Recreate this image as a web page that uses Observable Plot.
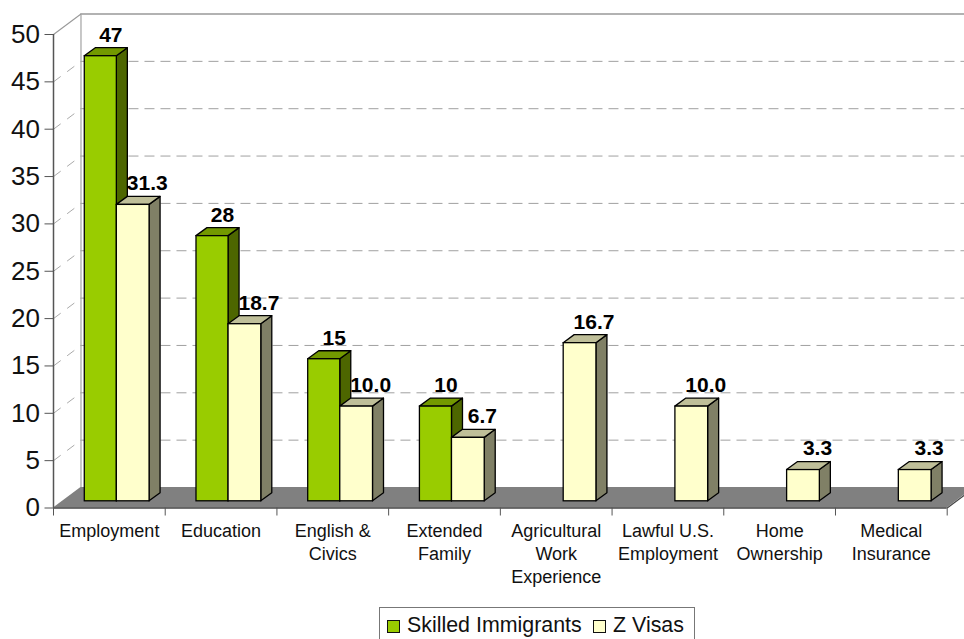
<!DOCTYPE html>
<html>
<head>
<meta charset="utf-8">
<script src="https://cdn.jsdelivr.net/npm/d3@7"></script>
<script src="https://cdn.jsdelivr.net/npm/@observablehq/plot@0.6"></script>
<style>
html,body{margin:0;padding:0;background:#fff;overflow:hidden;width:964px;height:639px}
#chart svg{display:block;overflow:hidden;max-width:none}
#legend{position:absolute;left:379px;top:607px;width:316px;height:40px;box-sizing:border-box;border:1px solid #777;
 font:21.4px "Liberation Sans",Arial,sans-serif;color:#111;white-space:nowrap}
#legend i{position:absolute;top:12px;width:11px;height:11px;border:1.3px solid #111}
#legend span{position:absolute;top:4px;line-height:26px}
</style>
</head>
<body>
<div id="chart"></div>
<div id="legend">
  <i style="left:7px;background:#99cc00"></i><span id="legendA" style="left:27px"></span>
  <i style="left:213px;background:#ffffcc"></i><span id="legendB" style="left:233px"></span>
</div>
<script>
const categories = ["Employment","Education","English &\nCivics","Extended\nFamily","Agricultural\nWork\nExperience","Lawful U.S.\nEmployment","Home\nOwnership","Medical\nInsurance"];
const skilled = [47,28,15,10,null,null,null,null];
const zVisas = [31.3,18.7,10.0,6.7,16.7,10.0,3.3,3.3];
const skilledLabels = ["47","28","15","10",null,null,null,null];
const zLabels = ["31.3","18.7","10.0","6.7","16.7","10.0","3.3","3.3"];
const yTicks = [0,5,10,15,20,25,30,35,40,45,50];
const gridValues = [5,10,15,20,25,30,35,40,45];
const seriesNames = ["Skilled Immigrants","Z Visas"];

document.getElementById("legendA").textContent = seriesNames[0];
document.getElementById("legendB").textContent = seriesNames[1];

// Depth of the floor and of the bars, in data units (category widths, value units)
const wallX = 0.246, wallY = 2.165, barX = 0.0985, barY = 0.845;
const font = '"Liberation Sans",Arial,sans-serif';

const rows = (vals, labs, a, b) => vals.map((v,i)=>({i, v, label:labs[i], x1:i+a, x2:i+b})).filter(d=>d.v!=null);
const green = rows(skilled, skilledLabels, 0.28, 0.567);
const yellow = rows(zVisas, zLabels, 0.567, 0.86);

const sideFaces = bars => bars.flatMap(d=>[
  {id:d.i, x:d.x2, y1:0, y2:d.v},
  {id:d.i, x:d.x2+barX, y1:barY, y2:d.v+barY}
]);
const topFaces = bars => bars.flatMap(d=>[
  {id:d.i, x:d.x1, y1:d.v, y2:d.v},
  {id:d.i, x:d.x1+barX, y1:d.v, y2:d.v+barY},
  {id:d.i, x:d.x2, y1:d.v, y2:d.v+barY},
  {id:d.i, x:d.x2+barX, y1:d.v+barY, y2:d.v+barY}
]);
const floor = [
  {x:0, y1:0, y2:0},
  {x:wallX, y1:0, y2:wallY},
  {x:8, y1:0, y2:wallY},
  {x:8+wallX, y1:wallY, y2:wallY}
];

const barMarks = (bars, front, top, side) => [
  Plot.area(sideFaces(bars), {x1:"x", y1:"y1", y2:"y2", z:"id", fill:side, stroke:"#000", strokeWidth:1.3, dy:-6.7}),
  Plot.area(topFaces(bars), {x1:"x", y1:"y1", y2:"y2", z:"id", fill:top, stroke:"#000", strokeWidth:1.3, dy:-6.7}),
  Plot.rect(bars, {x1:"x1", x2:"x2", y1:0, y2:"v", fill:front, stroke:"#000", strokeWidth:1.3, dy:-6.7})
];
const barLabels = (bars, offset) => Plot.text(bars, {
  x:d=>(d.x1+d.x2)/2, y:"v", text:"label", dx:offset, dy:-28,
  fontSize:21, fontWeight:"bold", fill:"#000", fontFamily:font
});

const chart = Plot.plot({
  width:964, height:607,
  marginLeft:53, marginRight:17.3, marginTop:34, marginBottom:99.5,
  style:{fontFamily:font, background:"#fff"},
  x:{domain:[0,8], axis:null},
  y:{domain:[0,50], axis:null},
  marks:[
    // back wall and side wall
    Plot.ruleY([50+wallY], {x1:wallX, x2:8.3, stroke:"#999", strokeWidth:1.3}),
    Plot.ruleX([wallX], {y1:wallY, y2:50+wallY, stroke:"#aaa", strokeWidth:1.3}),
    Plot.link([50], {x1:0, y1:d=>d, x2:wallX, y2:d=>d+wallY, stroke:"#999", strokeWidth:1.1}),
    Plot.ruleY(gridValues, {y:d=>d+wallY, x1:wallX, x2:8.3, stroke:"#a0a0a0", strokeWidth:1, strokeDasharray:"10 6"}),
    Plot.link(gridValues, {x1:0, y1:d=>d, x2:wallX, y2:d=>d+wallY, stroke:"#aaa", strokeWidth:1, strokeDasharray:"9 8"}),
    // floor
    Plot.area(floor, {x1:"x", y1:"y1", y2:"y2", fill:"#808080"}),
    Plot.link([8], {x1:d=>d, y1:0, x2:d=>d+wallX, y2:wallY, stroke:"#444", strokeWidth:1.2}),
    // axes
    Plot.ruleX([0], {stroke:"#555", strokeWidth:1.5}),
    Plot.ruleY([0], {stroke:"#444", strokeWidth:1.5}),
    Plot.axisY({ticks:yTicks, tickSize:8.5, tickPadding:5, fontSize:26, label:null, stroke:"#555", fill:"#111", fontFamily:font}),
    Plot.axisX({ticks:d3.range(0,9), tickSize:8, tickFormat:()=>"", label:null, stroke:"#555"}),
    Plot.text(categories, {x:(d,i)=>i+0.5, y:0, text:d=>d, dy:13, lineAnchor:"top", lineHeight:1.28, fontSize:18, fill:"#111", fontFamily:font}),
    // bars
    ...barMarks(green, "#99cc00", "#739900", "#4d6600"),
    ...barMarks(yellow, "#ffffcc", "#bfbf99", "#808066"),
    barLabels(green, 10),
    barLabels(yellow, 14)
  ]
});
document.getElementById("chart").append(chart);
</script>
</body>
</html>
